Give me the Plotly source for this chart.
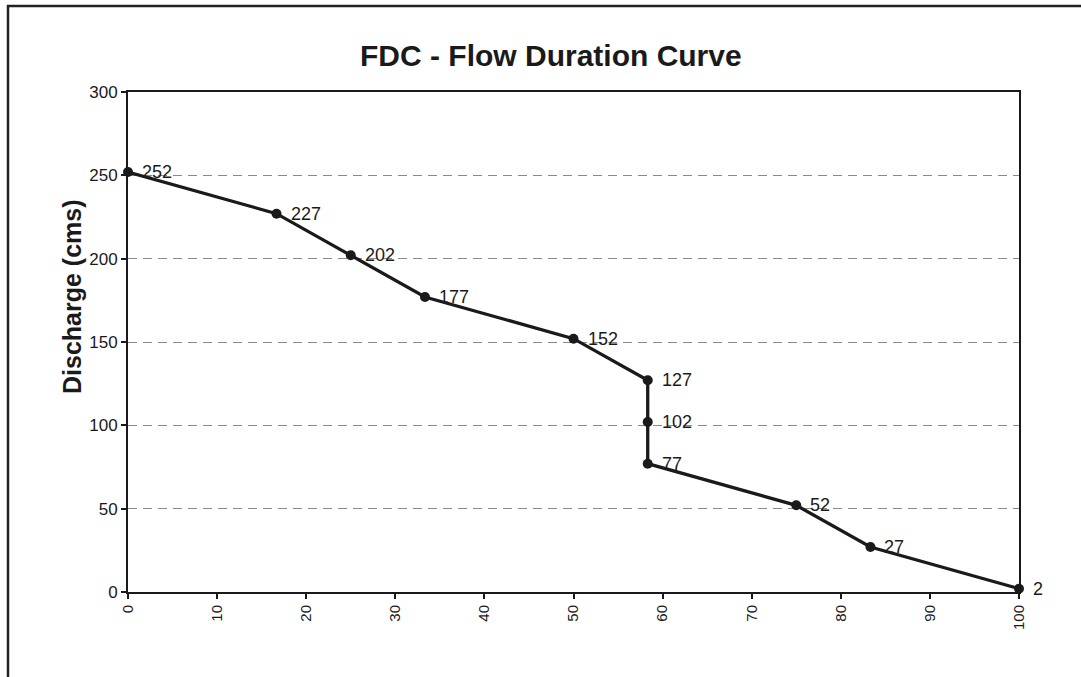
import plotly.graph_objects as go

# Data
exceedance_pct = [0, 16.67, 25, 33.33, 50, 58.33, 58.33, 58.33, 75, 83.33, 100]
discharge_cms = [252, 227, 202, 177, 152, 127, 102, 77, 52, 27, 2]
x_ticks = [0, 10, 20, 30, 40, 50, 60, 70, 80, 90, 100]
y_ticks = [0, 50, 100, 150, 200, 250, 300]

FONT = "Liberation Sans, Arial, sans-serif"
INK = "#1a1a1a"

W, H = 1081, 677
L, R, T, B = 128, 1019, 92, 592
pw, ph = R - L, B - T

def px_x(p):
    return (p - L) / pw

def px_y(p):
    return (B - p) / ph

fig = go.Figure()
fig.add_trace(go.Scatter(
    x=exceedance_pct, y=discharge_cms,
    mode="lines+markers",
    line=dict(color=INK, width=3.3),
    marker=dict(color=INK, size=10),
    cliponaxis=False,
    showlegend=False,
))

annotations = []
for xv, yv in zip(exceedance_pct, discharge_cms):
    annotations.append(dict(
        x=xv, y=yv, xref="x", yref="y", text=str(yv),
        showarrow=False, xanchor="left", yanchor="middle",
        xshift=12, font=dict(family=FONT, size=18, color=INK),
    ))

# Title
annotations.append(dict(
    x=px_x(551), y=px_y(56), xref="paper", yref="paper",
    text="<b>FDC - Flow Duration Curve</b>", showarrow=False,
    xanchor="center", yanchor="middle",
    font=dict(family=FONT, size=30, color=INK),
))
# Y axis title
annotations.append(dict(
    x=px_x(72), y=px_y(297), xref="paper", yref="paper",
    text="<b>Discharge (cms)</b>", showarrow=False, textangle=-90,
    xanchor="center", yanchor="middle",
    font=dict(family=FONT, size=25, color=INK),
))

shapes = [
    # outer chart border (right/bottom lie off-canvas)
    dict(type="rect", xref="paper", yref="paper",
         x0=px_x(8), x1=px_x(1090), y0=px_y(690), y1=px_y(6),
         line=dict(color="#222222", width=2.5), fillcolor="rgba(0,0,0,0)",
         layer="below"),
]

fig.update_layout(
    width=W, height=H,
    margin=dict(l=L, r=W - R, t=T, b=H - B, pad=0),
    paper_bgcolor="white", plot_bgcolor="white",
    font=dict(family=FONT, color=INK),
    annotations=annotations,
    shapes=shapes,
    xaxis=dict(
        range=[0, 100], tickvals=x_ticks, ticktext=[str(v) for v in x_ticks],
        tickangle=-90, ticks="outside", ticklen=5, tickwidth=1.5, tickcolor=INK,
        showline=True, linecolor=INK, linewidth=2, mirror=True,
        showgrid=False, zeroline=False,
        tickfont=dict(family=FONT, size=15, color=INK),
    ),
    yaxis=dict(
        range=[0, 300], tickvals=y_ticks, ticktext=[str(v) for v in y_ticks],
        ticks="outside", ticklen=5, tickwidth=1.5, tickcolor=INK,
        showline=True, linecolor=INK, linewidth=2, mirror=True,
        showgrid=True, gridcolor="#8a8a8a", gridwidth=1, griddash="9px,6px",
        zeroline=False,
        tickfont=dict(family=FONT, size=17, color=INK),
    ),
)

fig.write_html("out.html")
